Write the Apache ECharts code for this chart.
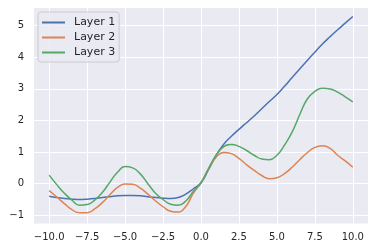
<!DOCTYPE html>
<html>
<head>
<meta charset="utf-8">
<script src="https://cdn.jsdelivr.net/npm/echarts@6/dist/echarts.min.js"></script>
<style>
html,body{margin:0;padding:0;background:#fff;}
#chart{width:374px;height:251px;}
</style>
</head>
<body>
<div id="chart"></div>
<script>
var xs = [-10,-9.5,-9,-8.5,-8,-7.5,-7,-6.5,-6,-5.5,-5,-4.5,-4,-3.5,-3,-2.5,-2,-1.5,-1,-0.5,0,0.5,1,1.5,2,2.5,3,3.5,4,4.5,5,5.5,6,6.5,7,7.5,8,8.5,9,9.5,10];
var layer1 = [-0.40,-0.44,-0.47,-0.49,-0.50,-0.49,-0.47,-0.44,-0.41,-0.38,-0.37,-0.37,-0.38,-0.41,-0.44,-0.46,-0.47,-0.44,-0.33,-0.16,0.03,0.45,0.90,1.25,1.50,1.72,1.93,2.14,2.37,2.60,2.82,3.08,3.36,3.63,3.90,4.16,4.42,4.65,4.87,5.08,5.29];
var layer2 = [-0.22,-0.42,-0.63,-0.82,-0.92,-0.92,-0.80,-0.60,-0.35,-0.12,-0.01,-0.02,-0.14,-0.33,-0.54,-0.73,-0.87,-0.90,-0.72,-0.30,0.03,0.48,0.84,0.99,0.95,0.80,0.60,0.42,0.26,0.16,0.19,0.32,0.52,0.76,0.98,1.15,1.20,1.12,0.90,0.72,0.52];
var layer3 = [0.27,-0.03,-0.30,-0.52,-0.68,-0.66,-0.52,-0.28,0.05,0.36,0.54,0.50,0.31,0.00,-0.30,-0.50,-0.65,-0.68,-0.55,-0.24,0.03,0.48,0.90,1.17,1.24,1.18,1.05,0.90,0.78,0.76,0.90,1.22,1.63,2.18,2.68,2.92,3.02,3.00,2.90,2.75,2.59];
var xTicks = [-10,-7.5,-5,-2.5,0,2.5,5,7.5,10];
var yTicks = [-1,0,1,2,3,4,5];
var seriesNames = ['Layer 1','Layer 2','Layer 3'];
var colors = ['#4C72B0','#DD8452','#55A868'];

function pairs(ys){ return xs.map(function(x,i){ return [x, ys[i]]; }); }
function minusFmt(v, dec){
  var s = dec ? Math.abs(v).toFixed(dec) : String(Math.abs(v));
  return (v < 0 ? '\u2212' : '') + s;
}
var allY = [layer1, layer2, layer3];
var chart = echarts.init(document.getElementById('chart'), null, {renderer:'canvas'});
chart.setOption({
  animation: false,
  backgroundColor: '#ffffff',
  color: colors,
  grid: {left:34, right:6, top:8, bottom:27.5, show:true, backgroundColor:'#EAEAF2', borderWidth:0},
  xAxis: {
    type:'value', min:-11, max:11,
    axisLine:{show:false},
    axisTick:{show:false, customValues:xTicks},
    splitLine:{show:true, lineStyle:{color:'#ffffff', width:1}},
    axisLabel:{customValues:xTicks, margin:9, fontSize:10, fontFamily:'DejaVu Sans', color:'#262626',
      formatter:function(v){ return minusFmt(v,1); }}
  },
  yAxis: {
    type:'value', min:-1.26, max:5.56,
    axisLine:{show:false},
    axisTick:{show:false, customValues:yTicks},
    splitLine:{show:true, lineStyle:{color:'#ffffff', width:1}},
    axisLabel:{customValues:yTicks, margin:10, fontSize:10, fontFamily:'DejaVu Sans', color:'#262626',
      formatter:function(v){ return minusFmt(v,0); }}
  },
  legend: {
    left:38, top:12, orient:'vertical', align:'left',
    padding:[4,4,3,4], itemGap:2, itemWidth:23, itemHeight:2, icon:'rect',
    backgroundColor:'rgba(234,234,242,0.8)', borderColor:'#cccccc', borderWidth:1, borderRadius:3,
    textStyle:{fontSize:11, fontFamily:'DejaVu Sans', color:'#262626', lineHeight:13, padding:[0,0,0,4]},
    data: seriesNames
  },
  series: seriesNames.map(function(n,i){
    return {name:n, type:'line', data:pairs(allY[i]), smooth:0.5, showSymbol:false, symbol:'none',
      lineStyle:{width:1.5, color:colors[i]}, itemStyle:{color:colors[i]}};
  })
});
</script>
</body>
</html>
